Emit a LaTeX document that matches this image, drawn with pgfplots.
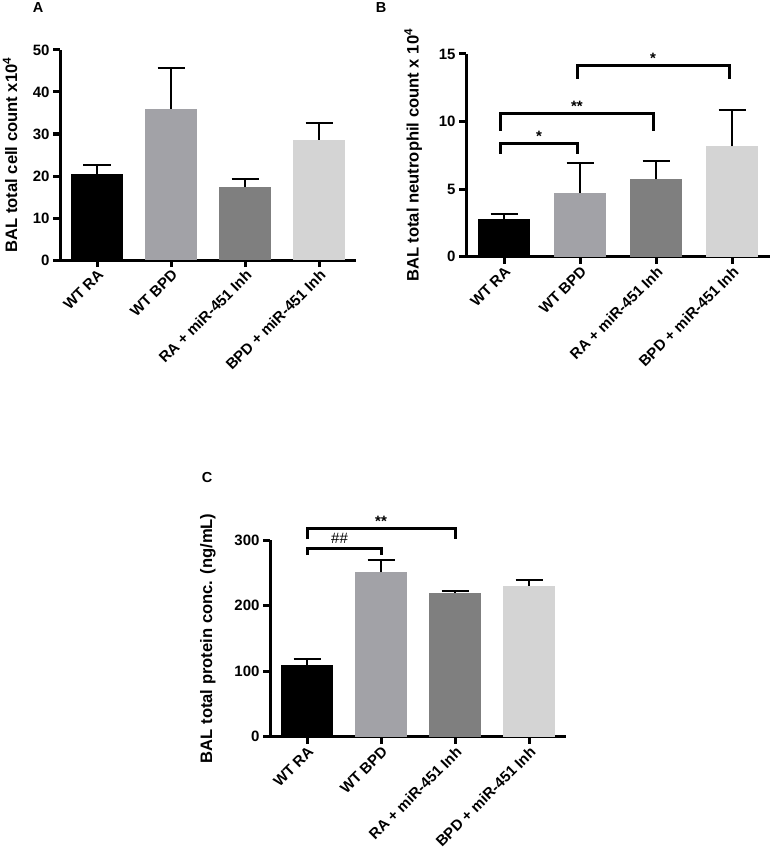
\documentclass[border=0pt]{standalone}
\usepackage{pgfplots}
\pgfplotsset{compat=1.18}
\usepackage{fontspec}
\setmainfont{Liberation Sans}

\definecolor{cRA}{HTML}{000000}
\definecolor{cBPD}{HTML}{A2A2A7}
\definecolor{cRAi}{HTML}{7F7F7F}
\definecolor{cBPDi}{HTML}{D4D4D4}

\newcommand{\tkfont}{\bfseries\fontsize{15}{17}\selectfont}
\newcommand{\lblfont}{\bfseries\fontsize{16.6}{18}\selectfont}

\pgfplotsset{
  panel/.style={
    scale only axis,
    axis x line=bottom, axis y line=left,
    axis line style={line width=3pt, -},
    xmin=-0.5, xmax=3.5, ymin=0,
    xtick={0,1,2,3},
    xticklabels={WT RA, WT BPD, RA + miR-451 Inh, BPD + miR-451 Inh},
    x tick label style={rotate=45, anchor=north east, inner sep=1pt},
    tick align=outside, major tick length=7pt,
    every tick/.style={line width=3pt, black},
    tick label style={font=\tkfont},
    label style={font=\lblfont},
    /pgf/number format/assume math mode=true,
    clip=false,
  },
  mybar/.style={
    ybar, bar width=52pt, bar shift=0pt, draw=none, fill=#1,
    error bars/.cd, y dir=plus, y explicit,
    error bar style={line width=2pt, black},
    error mark options={rotate=90, mark size=13.5pt, line width=2pt, black},
  },
  bracket/.style={black, line width=3pt, mark=none, sharp plot, forget plot},
}

\begin{document}
\begin{tikzpicture}
\useasboundingbox (0,0) rectangle (770pt,-850pt);

% A
\begin{axis}[panel, at={(60pt,-260pt)}, anchor=south west,
  width=296pt, height=210pt, ymax=50, ytick={0,10,20,30,40,50},
  ylabel={BAL total cell count x10\textsuperscript{4}},
  ylabel style={at={(axis description cs:-0.169,0.5)}, anchor=center}]
  \addplot[mybar=cRA]   coordinates {(0,20.5) +- (0,2.1)};
  \addplot[mybar=cBPD]  coordinates {(1,36.0) +- (0,9.7)};
  \addplot[mybar=cRAi]  coordinates {(2,17.4) +- (0,2.0)};
  \addplot[mybar=cBPDi] coordinates {(3,28.6) +- (0,4.0)};
\end{axis}

% B
\begin{axis}[panel, at={(466pt,-256.7pt)}, anchor=south west,
  width=304pt, height=202.7pt, ymax=15, ytick={0,5,10,15},
  ylabel={BAL total neutrophil count x 10\textsuperscript{4}},
  ylabel style={at={(axis description cs:-0.174,0.5)}, anchor=center}]
  \addplot[mybar=cRA]   coordinates {(0,2.8) +- (0,0.34)};
  \addplot[mybar=cBPD]  coordinates {(1,4.7) +- (0,2.2)};
  \addplot[mybar=cRAi]  coordinates {(2,5.73) +- (0,1.36)};
  \addplot[mybar=cBPDi] coordinates {(3,8.17) +- (0,2.7)};
  \addplot[bracket] coordinates {(-0.05,7.6) (-0.05,8.4) (0.97,8.4) (0.97,7.6)};
  \addplot[bracket] coordinates {(-0.05,9.33) (-0.05,10.57) (1.97,10.57) (1.97,9.33)};
  \addplot[bracket] coordinates {(0.97,13.16) (0.97,14.15) (2.97,14.15) (2.97,13.16)};
  \node[font=\tkfont, anchor=base, yshift=2pt] at (axis cs:0.46,8.4) {*};
  \node[font=\tkfont, anchor=base, yshift=2pt] at (axis cs:0.96,10.57) {**};
  \node[font=\tkfont, anchor=base, yshift=2pt] at (axis cs:1.96,14.15) {*};
\end{axis}

% C
\begin{axis}[panel, at={(270pt,-736.7pt)}, anchor=south west,
  width=296pt, height=196.7pt, ymax=300, ytick={0,100,200,300},
  ylabel={BAL total protein conc. (ng/mL)},
  ylabel style={at={(axis description cs:-0.21,0.5)}, anchor=center}]
  \addplot[mybar=cRA]   coordinates {(0,109.4) +- (0,9.1)};
  \addplot[mybar=cBPD]  coordinates {(1,250.8) +- (0,18.7)};
  \addplot[mybar=cRAi]  coordinates {(2,218.7) +- (0,3.5)};
  \addplot[mybar=cBPDi] coordinates {(3,230.4) +- (0,8.6)};
  \addplot[bracket] coordinates {(0,277) (0,287.3) (1,287.3) (1,277)};
  \addplot[bracket] coordinates {(0,301.5) (0,318) (2,318) (2,301.5)};
  \node[font=\fontsize{15}{17}\selectfont, anchor=base, yshift=5pt] at (axis cs:0.44,287.3) {\#\#};
  \node[font=\tkfont, anchor=base, yshift=2pt] at (axis cs:1,318) {**};
\end{axis}

\node[font=\bfseries\fontsize{14.5}{16}\selectfont] at (38pt,-8pt) {A};
\node[font=\bfseries\fontsize{14.5}{16}\selectfont] at (381pt,-8pt) {B};
\node[font=\bfseries\fontsize{14.5}{16}\selectfont] at (207pt,-478pt) {C};
\end{tikzpicture}
\end{document}
